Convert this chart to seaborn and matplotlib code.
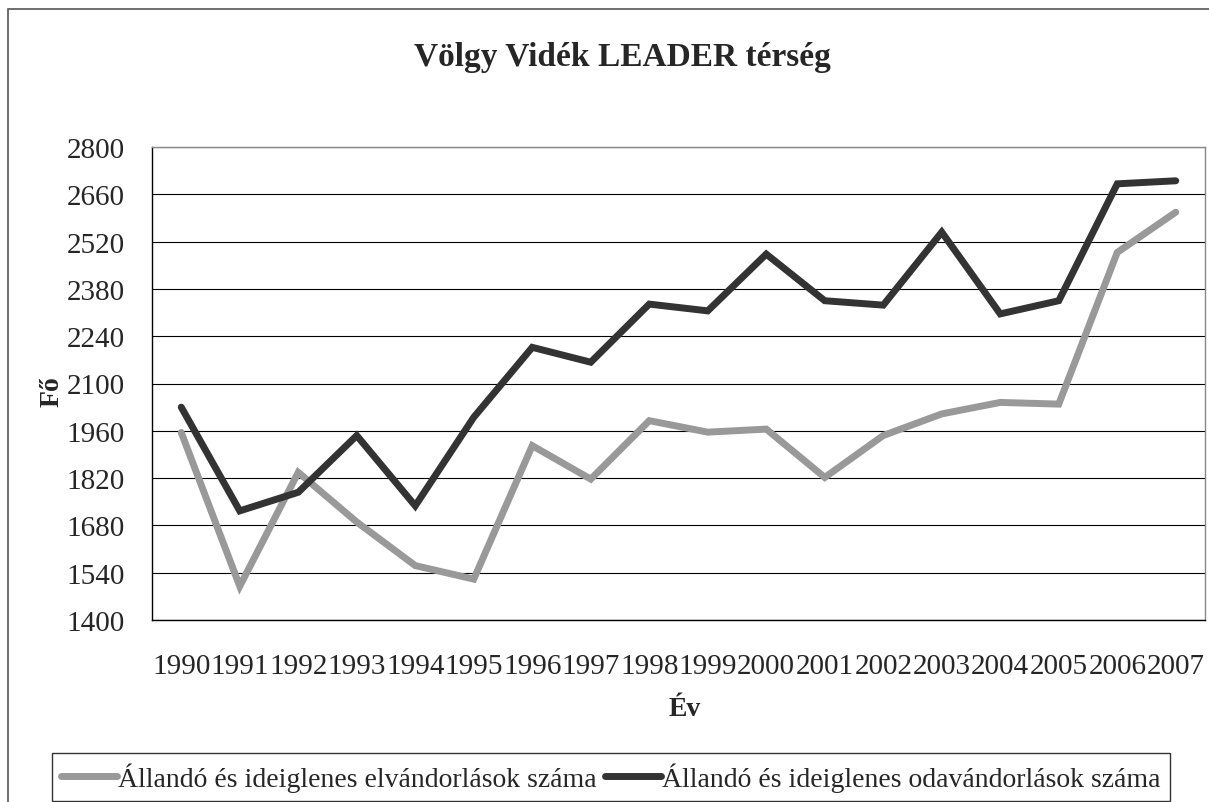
import numpy as np
import pandas as pd
import matplotlib.pyplot as plt
import seaborn as sns
from matplotlib.patches import Rectangle

# Data
years = [str(y) for y in range(1990, 2008)]
elvandorlas = [1955, 1500, 1837, 1690, 1561, 1521, 1916, 1817, 1990, 1956,
               1965, 1822, 1946, 2010, 2044, 2039, 2488, 2607]
odavandorlas = [2030, 1723, 1778, 1946, 1738, 2000, 2207, 2163, 2335, 2315,
                2483, 2345, 2332, 2548, 2306, 2345, 2691, 2700]
series_names = ["Állandó és ideiglenes elvándorlások száma",
                "Állandó és ideiglenes odavándorlások száma"]
colors = ["#999999", "#333333"]

df = pd.DataFrame({"Év": years * 2,
                   "Fő": elvandorlas + odavandorlas,
                   "Sorozat": [series_names[0]] * len(years) + [series_names[1]] * len(years)})
df["pos"] = list(range(len(years))) * 2

sns.set_style("white")
plt.rcParams["font.family"] = ["Liberation Serif", "DejaVu Serif"]

W, H = 1209, 803
fig = plt.figure(figsize=(W / 100, H / 100), dpi=100)
ax = fig.add_axes([152 / W, 1 - 621 / H, (1205 - 152) / W, (621 - 148) / H])

# outer chart frame
fig.patches.append(Rectangle((8 / W, -0.1), 1.2, 1 - 10 / H + 0.1, transform=fig.transFigure,
                             fill=False, edgecolor="#555555", linewidth=1.2))

sns.lineplot(data=df, x="pos", y="Fő", hue="Sorozat", palette=colors, ax=ax,
             linewidth=5, solid_capstyle="round", solid_joinstyle="miter", legend=True)

ax.set_xlim(-0.5, len(years) - 0.5)
ax.set_ylim(1400, 2800)
ax.set_yticks(np.arange(1400, 2801, 140))
ax.yaxis.grid(True, color="black", linewidth=0.8)
ax.set_axisbelow(True)

ax.set_xticks(range(len(years)))
ax.set_xticklabels(years)
ax.set_xticks(np.arange(-0.5, len(years)), minor=True)
ax.tick_params(axis="x", which="major", length=0, pad=24, labelsize=21)
ax.tick_params(axis="x", which="minor", length=6.5, width=0.8, direction="out", color="black")
ax.tick_params(axis="y", length=6.5, width=0.8, direction="out", pad=13, labelsize=21, color="black")

for side in ["left", "bottom"]:
    ax.spines[side].set_color("black")
    ax.spines[side].set_linewidth(1.0)
for side in ["top", "right"]:
    ax.spines[side].set_visible(True)
    ax.spines[side].set_color("#888888")
    ax.spines[side].set_linewidth(1.0)

ax.set_xlabel("")
ax.set_ylabel("")
fig.text(685 / W, 1 - 716 / H, "Év", ha="center", va="baseline", fontsize=20, fontweight="bold")
fig.text(52 / W, 1 - 392 / H, "Fő", ha="center", va="center", rotation=90,
         fontsize=20, fontweight="bold")
fig.text(622 / W, 1 - 66 / H, "Völgy Vidék LEADER térség", ha="center", va="baseline",
         fontsize=24, fontweight="bold")

leg = ax.legend(loc="upper left", bbox_to_anchor=(52 / W, 1 - 754 / H), bbox_transform=fig.transFigure,
                ncol=2, frameon=True, fancybox=False, fontsize=20, handlelength=2.0,
                handletextpad=0.05, columnspacing=0.3, borderpad=0.33, borderaxespad=0)
leg.get_frame().set_edgecolor("black")
leg.get_frame().set_linewidth(1.0)
for line in leg.get_lines():
    line.set_linewidth(5)
    line.set_solid_capstyle("round")

fig.savefig("out.png", dpi=100)
